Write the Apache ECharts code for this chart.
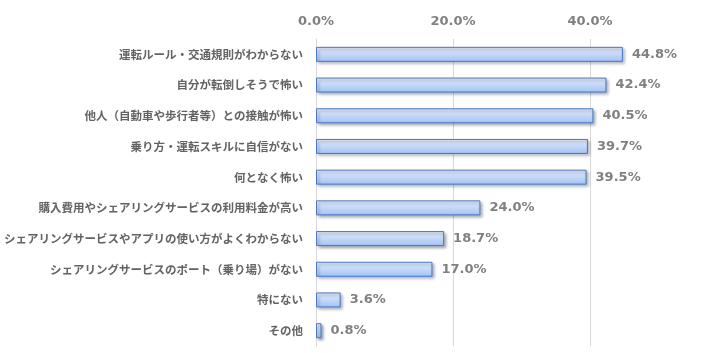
<!DOCTYPE html>
<html>
<head>
<meta charset="utf-8">
<script src="https://cdn.jsdelivr.net/npm/echarts@6/dist/echarts.min.js"></script>
<style>
html,body{margin:0;padding:0;background:#fff;}
#chart{width:701px;height:353px;}
</style>
</head>
<body>
<div id="chart"></div>
<script>
// 項目
var categories = [
	'運転ルール・交通規則がわからない',
	'自分が転倒しそうで怖い',
	'他人（自動車や歩行者等）との接触が怖い',
	'乗り方・運転スキルに自信がない',
	'何となく怖い',
	'購入費用やシェアリングサービスの利用料金が高い',
	'シェアリングサービスやアプリの使い方がよくわからない',
	'シェアリングサービスのポート（乗り場）がない',
	'特にない',
	'その他'
];
// 割合(%)
var values = [44.8, 42.4, 40.5, 39.7, 39.5, 24.0, 18.7, 17.0, 3.6, 0.8];

var jpFont = '"Noto Sans CJK JP", "Noto Sans", sans-serif';
var numFont = '"DejaVu Sans", sans-serif';

var chart = echarts.init(document.getElementById('chart'));
var option = {
	animation : false,
	grid : {
		left : 316,
		right : -26,
		top : 39,
		bottom : 7,
		containLabel : false,
		outerBoundsMode : 'none'
	},
	xAxis : {
		type : 'value',
		position : 'top',
		min : 0,
		max : 60,
		interval : 20,
		axisLine : { show : false },
		axisTick : { show : false },
		splitLine : { lineStyle : { color : '#d9d9d9' } },
		axisLabel : {
			color : '#808080',
			fontWeight : 'bold',
			fontSize : 13,
			fontFamily : numFont,
			margin : 11,
			formatter : function(v){ return v.toFixed(1) + '%'; }
		}
	},
	yAxis : {
		type : 'category',
		inverse : true,
		data : categories,
		axisLine : { show : true, lineStyle : { color : '#d9d9d9' } },
		axisTick : { show : false },
		axisLabel : {
			color : '#636363',
			fontWeight : 'bold',
			fontSize : 11.5,
			fontFamily : jpFont,
			margin : 13
		}
	},
	series : [ {
		type : 'bar',
		data : values,
		barWidth : 15,
		itemStyle : {
			color : new echarts.graphic.LinearGradient(0, 0, 0, 1, [
				{ offset : 0, color : '#e3edfd' },
				{ offset : 1, color : '#a3c2f5' }
			]),
			borderColor : '#4a78c2',
			borderWidth : 1,
			shadowColor : 'rgba(0,0,0,0.35)',
			shadowBlur : 3,
			shadowOffsetX : 2,
			shadowOffsetY : 2
		},
		label : {
			show : true,
			position : 'right',
			distance : 9,
			color : '#808080',
			fontWeight : 'bold',
			fontSize : 13,
			fontFamily : numFont,
			formatter : function(p){ return p.value.toFixed(1) + '%'; }
		}
	} ]
};
chart.setOption(option);
</script>
</body>
</html>
